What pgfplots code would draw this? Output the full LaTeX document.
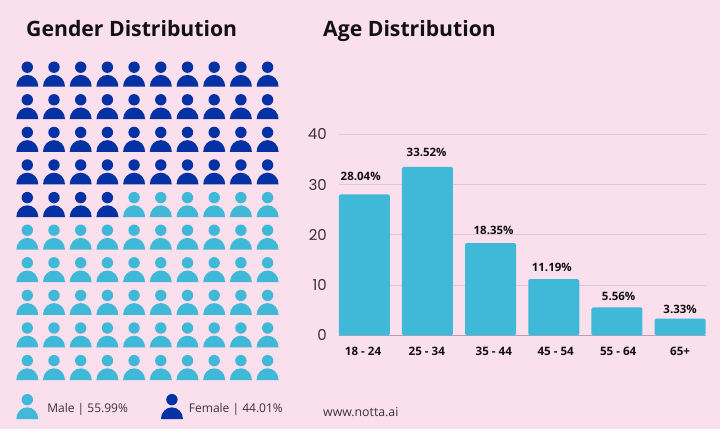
\documentclass[border=0pt]{standalone}
\usepackage{fontspec}
\setmainfont{Open Sans}
\newfontfamily\popp{Poppins}
\usepackage{pgfplots}
\pgfplotsset{compat=1.18}
\definecolor{bgpink}{HTML}{FADFEC}
\definecolor{navy}{HTML}{0431A3}
\definecolor{sky}{HTML}{40B8D8}
\definecolor{gridc}{HTML}{E4C6D6}
\definecolor{basec}{HTML}{B8A0B0}
\definecolor{ink}{HTML}{111111}
\definecolor{soft}{HTML}{3A3238}
\pgfdeclareplotmark{person}{%
  \pgfpathcircle{\pgfpoint{0pt}{9.7pt}}{5.7pt}%
  \pgfpathmoveto{\pgfpoint{-11pt}{-9.7pt}}%
  \pgfpathcurveto{\pgfpoint{-11pt}{-3.2pt}}{\pgfpoint{-6.1pt}{2pt}}{\pgfpoint{0pt}{2pt}}%
  \pgfpathcurveto{\pgfpoint{6.1pt}{2pt}}{\pgfpoint{11pt}{-3.2pt}}{\pgfpoint{11pt}{-9.7pt}}%
  \pgfpathclose
  \pgfusepathqfill
}
\begin{document}
\begin{tikzpicture}[x=1pt,y=1pt]
\path[use as bounding box] (0,0) rectangle (720,429);
\fill[bgpink] (0,0) rectangle (720,429);
\node[anchor=base west,inner sep=0pt,text=ink,font=\fontsize{21.2}{26}\selectfont\bfseries] at (26,392) {Gender Distribution};
\node[anchor=base west,inner sep=0pt,text=ink,font=\fontsize{21.2}{26}\selectfont\bfseries] at (323,392) {Age Distribution};
\node[anchor=base west,inner sep=0pt,text=soft,font=\fontsize{12.3}{14}\selectfont] at (323,12.5) {www.notta.ai};
% waffle
\begin{axis}[
  at={(27.3pt,58.7pt)},anchor=origin,
  x=26.7pt,y=32.6pt,
  xmin=-1,xmax=10,ymin=-1.5,ymax=10,
  axis lines=none,clip=false,
  legend columns=2,
  legend style={at={(axis cs:-0.42,-1.11)},anchor=west,draw=none,fill=none,inner sep=0pt,
    font=\fontsize{12}{14}\selectfont,text=soft,
    /tikz/column 2/.style={column sep=33pt},
    nodes={inner sep=0pt}},
  legend cell align=left,
]
\addplot[only marks,mark=person,mark options={fill=sky,draw=none}] coordinates {
(4,5)(5,5)(6,5)(7,5)(8,5)(9,5)
(0,4)(1,4)(2,4)(3,4)(4,4)(5,4)(6,4)(7,4)(8,4)(9,4)
(0,3)(1,3)(2,3)(3,3)(4,3)(5,3)(6,3)(7,3)(8,3)(9,3)
(0,2)(1,2)(2,2)(3,2)(4,2)(5,2)(6,2)(7,2)(8,2)(9,2)
(0,1)(1,1)(2,1)(3,1)(4,1)(5,1)(6,1)(7,1)(8,1)(9,1)
(0,0)(1,0)(2,0)(3,0)(4,0)(5,0)(6,0)(7,0)(8,0)(9,0)
};
\addlegendentry{\hspace{9pt}\raisebox{2pt}{Male | 55.99\%}}
\addplot[only marks,mark=person,mark options={fill=navy,draw=none}] coordinates {
(0,9)(1,9)(2,9)(3,9)(4,9)(5,9)(6,9)(7,9)(8,9)(9,9)
(0,8)(1,8)(2,8)(3,8)(4,8)(5,8)(6,8)(7,8)(8,8)(9,8)
(0,7)(1,7)(2,7)(3,7)(4,7)(5,7)(6,7)(7,7)(8,7)(9,7)
(0,6)(1,6)(2,6)(3,6)(4,6)(5,6)(6,6)(7,6)(8,6)(9,6)
(0,5)(1,5)(2,5)(3,5)
};
\addlegendentry{\hspace{6pt}\raisebox{2pt}{Female | 44.01\%}}
\end{axis}
% bars
\begin{axis}[
  at={(338.7pt,93.7pt)},anchor=south west,
  scale only axis,width=367pt,height=201pt,
  xmin=-0.405,xmax=5.405,ymin=0,ymax=40,
  axis x line*=bottom,axis y line*=left,
  y axis line style={draw=none},
  x axis line style={draw=basec,line width=0.9pt},
  major tick length=0pt,
  ytick={0,10,20,30,40},
  ymajorgrids,grid style={draw=gridc,line width=0.9pt},
  /pgf/number format/assume math mode=true,
  yticklabel style={inner sep=0pt,xshift=-11.7pt,text=soft,font=\popp\fontsize{15}{18}\selectfont},
  xtick={-0.02,0.99,2.05,3.03,4.02,5.0},
  xticklabels={{18 - 24},{25 - 34},{\raisebox{1.5pt}{35 - 44}},{\raisebox{1.5pt}{45 - 54}},{\raisebox{1.5pt}{55 - 64}},{\raisebox{2pt}{65+}}},
  xticklabel style={inner sep=0pt,yshift=-12pt,text=ink,font=\fontsize{11.6}{13}\selectfont\bfseries},
  clip=false,
]
\addplot[ybar,bar width=51pt,fill=sky,draw=none,rounded corners=1.5pt,
  point meta=explicit symbolic,
  visualization depends on={\thisrow{dx}\as\dx},
  visualization depends on={\thisrow{dy}\as\dy},
  nodes near coords={\pgfplotspointmeta\%},
  every node near coord/.append style={anchor=center,inner sep=0pt,xshift=\dx pt,yshift=\dy pt,text=ink,
    font=\fontsize{11.5}{13}\selectfont\bfseries},
] table[x=x,y=y,meta=lab] {
x y lab dx dy
0 28.04 28.04 -3.6 18.4
1 33.52 33.52 -0.8 14
2 18.35 18.35 3 13
3 11.19 11.19 -2 12
4 5.56 5.56 1.7 11.4
5 3.33 3.33 0 9.6
};
\end{axis}
\end{tikzpicture}
\end{document}
